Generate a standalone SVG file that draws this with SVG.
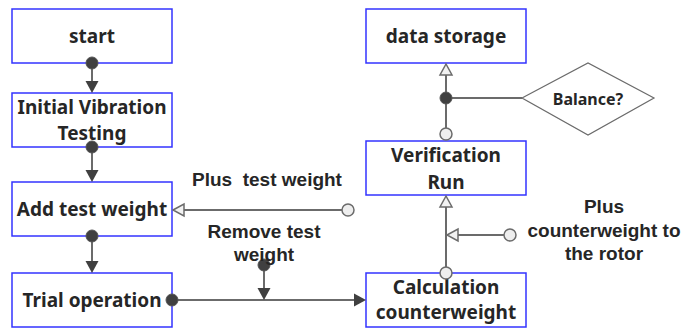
<svg xmlns="http://www.w3.org/2000/svg" width="686" height="329" viewBox="0 0 686 329">
<defs>
<style>
.box{fill:#fff;stroke:#3333ff;stroke-width:1.5}
.bt{font-family:"Noto Sans","Open Sans",sans-serif;font-weight:bold;font-size:19px;fill:#262626;text-anchor:middle}
.lb{font-family:"Liberation Sans",Arial,sans-serif;font-weight:bold;font-size:19px;fill:#262626;text-anchor:middle}
.ln{fill:none;stroke:#6b6b6b;stroke-width:2}
.dot{fill:#404040;stroke:#555;stroke-width:1}
.oc{fill:#eeeeee;stroke:#6b6b6b;stroke-width:1.5}
.fa{fill:#404040;stroke:none}
.oa{fill:#f2f2f2;stroke:#6b6b6b;stroke-width:1.5}
</style>
</defs>
<rect width="686" height="329" fill="#fff"/>
<g id="start"><rect class="box" x="12" y="9" width="160" height="54"/><text class="bt" x="92" y="43">start</text></g>
<g id="initial"><rect class="box" x="12" y="93" width="160" height="54"/><text class="bt" x="92" y="114">Initial Vibration</text><text class="bt" x="92" y="140">Testing</text></g>
<g id="addweight"><rect class="box" x="12" y="182" width="160" height="54"/><text class="bt" x="92" y="216">Add test weight</text></g>
<g id="trial"><rect class="box" x="12" y="273" width="160" height="54"/><text class="bt" x="92" y="307">Trial operation</text></g>
<g id="datastorage"><rect class="box" x="366" y="9" width="160" height="54"/><text class="bt" x="446" y="43">data storage</text></g>
<g id="verification"><rect class="box" x="366" y="141" width="160" height="54"/><text class="bt" x="446" y="162">Verification</text><text class="bt" x="446" y="189">Run</text></g>
<g id="calculation"><rect class="box" x="366" y="273" width="160" height="54"/><text class="bt" x="446" y="294">Calculation</text><text class="bt" x="446" y="319">counterweight</text></g>
<g id="balance"><polygon points="522,98 588,63 654,98 588,135" fill="#fff" stroke="#6b6b6b" stroke-width="1.2"/><text class="bt" style="font-size:16px" x="588" y="105">Balance?</text></g>
<g id="connectors">
<line class="ln" x1="92" y1="63" x2="92" y2="82"/><circle class="dot" cx="92" cy="63" r="6"/><polygon class="fa" points="85.5,81 98.5,81 92,93"/>
<line class="ln" x1="92" y1="147" x2="92" y2="171"/><circle class="dot" cx="92" cy="147" r="6"/><polygon class="fa" points="85.5,170 98.5,170 92,182"/>
<line class="ln" x1="92" y1="236" x2="92" y2="262"/><circle class="dot" cx="92" cy="236" r="6"/><polygon class="fa" points="85.5,261 98.5,261 92,273"/>
<line class="ln" x1="184" y1="210" x2="342" y2="210"/><polygon class="oa" points="173,210 184,204 184,216"/><circle class="oc" cx="348" cy="210" r="6"/>
<line class="ln" x1="172" y1="300" x2="354" y2="300"/><circle class="dot" cx="172" cy="300" r="6"/><polygon class="fa" points="366,300 354,293.5 354,306.5"/>
<line class="ln" x1="264" y1="265" x2="264" y2="289"/><circle class="dot" cx="264" cy="265" r="6"/><polygon class="fa" points="257.5,288 270.5,288 264,300"/>
<line class="ln" x1="446" y1="272" x2="446" y2="207"/><polygon class="oa" points="446,196 440,207 452,207"/><circle class="oc" cx="446" cy="273" r="6"/>
<line class="ln" x1="458" y1="235" x2="504" y2="235"/><polygon class="oa" points="447,235 458,229 458,241"/><circle class="oc" cx="510" cy="235" r="6"/>
<line class="ln" x1="446" y1="129" x2="446" y2="75"/><line class="ln" x1="446" y1="98" x2="522" y2="98"/><polygon class="oa" points="446,64 440,75 452,75"/><circle class="dot" cx="446" cy="98" r="6"/><circle class="oc" cx="446" cy="134" r="6"/>
</g>
<g id="labels">
<text class="lb" x="267" y="186" xml:space="preserve">Plus  test weight</text>
<text class="lb" x="264" y="238">Remove test</text>
<text class="lb" x="264" y="261">weight</text>
<text class="lb" x="604" y="213">Plus</text>
<text class="lb" x="604" y="237">counterweight to</text>
<text class="lb" x="604" y="260">the rotor</text>
</g>
</svg>
